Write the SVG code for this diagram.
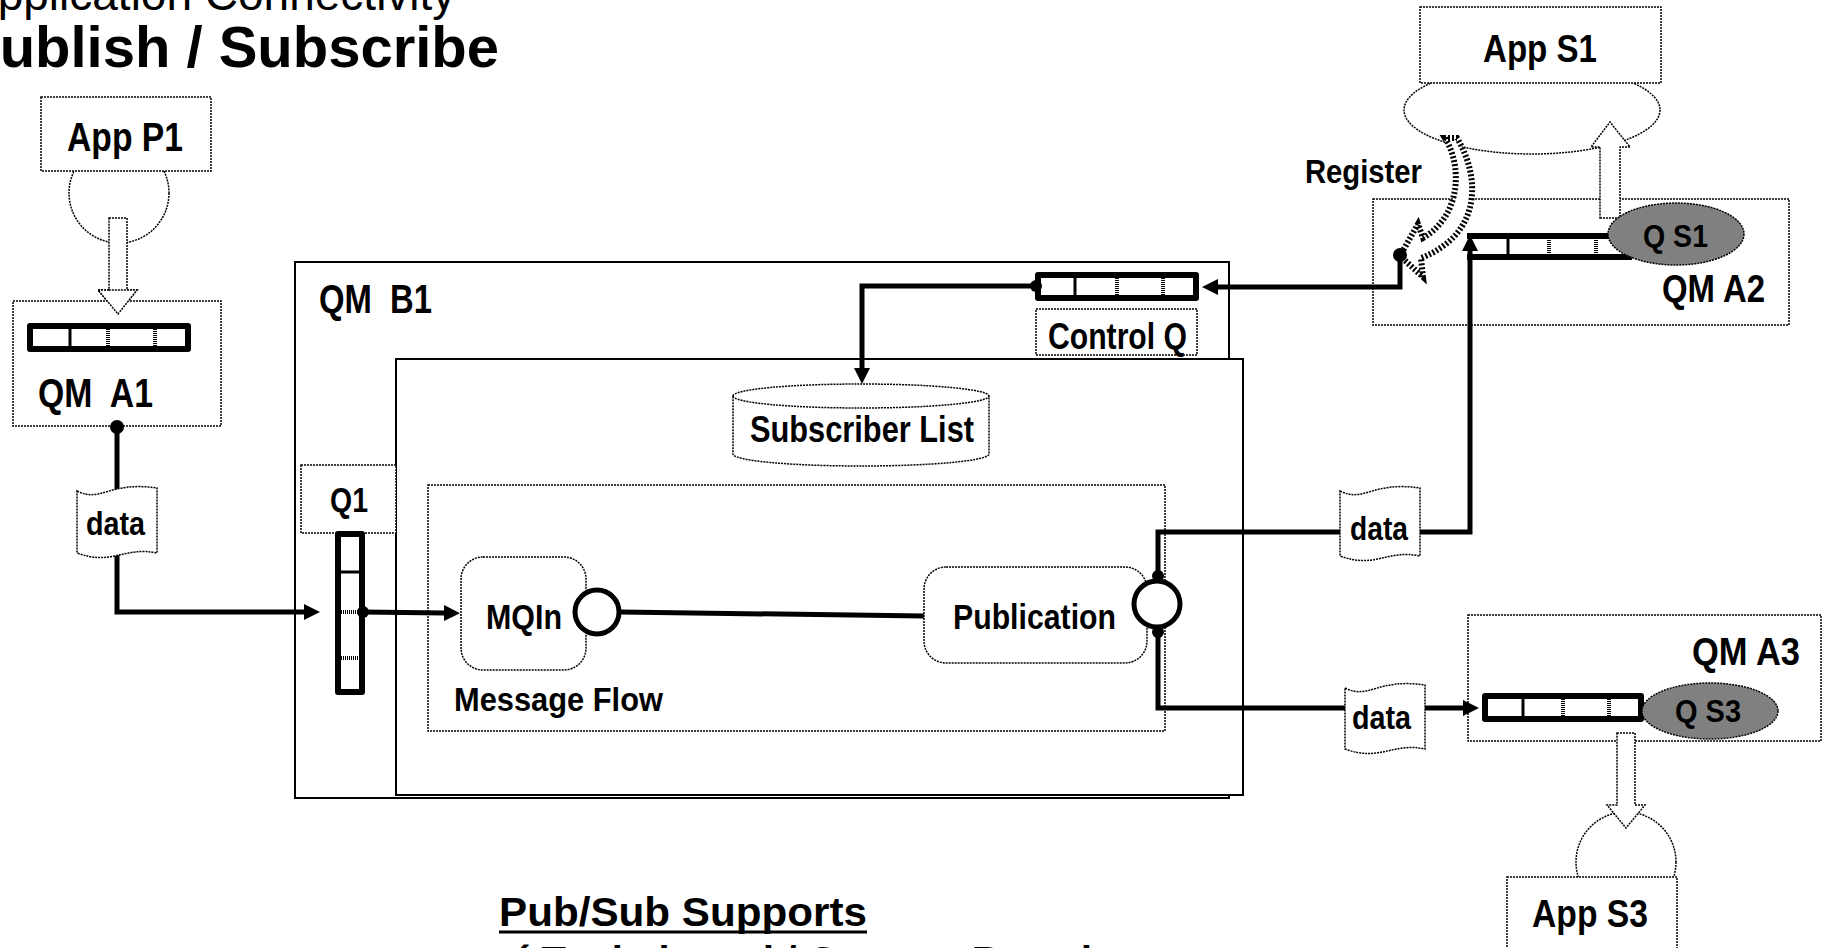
<svg xmlns="http://www.w3.org/2000/svg" width="1825" height="948" viewBox="0 0 1825 948">
<defs>
<style>
.lbl{font-family:"Liberation Sans Narrow","Liberation Sans",Arial,sans-serif;font-weight:bold;fill:#000}
.ttl{font-family:"Liberation Sans",Arial,sans-serif;fill:#000}
.dotb{fill:#fff;stroke:#000;stroke-width:1.5;stroke-dasharray:2 1}
.dotn{fill:none;stroke:#000;stroke-width:1.5;stroke-dasharray:2 1}
.solb{fill:#fff;stroke:#000;stroke-width:2}
.conn{fill:none;stroke:#000;stroke-width:5}
.q{fill:#fff;stroke:#000;stroke-width:6;stroke-linejoin:round}
.ql{fill:none;stroke:#000;stroke-width:6}
.dv{stroke:#000;stroke-width:4;stroke-dasharray:1 1}
.dv1{stroke:#000;stroke-width:3}
.gray{fill:#808080;stroke:#000;stroke-width:1.5;stroke-dasharray:2 1}
.port{fill:#fff;stroke:#000;stroke-width:5}
.hatch{fill:#fff;stroke:#000;stroke-width:6;stroke-dasharray:2 2}
</style>
<marker id="ah" viewBox="0 0 16 16" refX="0" refY="8" markerWidth="16" markerHeight="16" markerUnits="userSpaceOnUse" orient="auto">
<path d="M0,0 L16,8 L0,16 Z" fill="#000"/>
</marker>
</defs>

<g id="title">
<text class="ttl" x="-33" y="10" font-size="46">Application Connectivity</text>
<text class="ttl" x="-39" y="67" font-size="58" font-weight="bold" textLength="538" lengthAdjust="spacingAndGlyphs">Publish / Subscribe</text>
</g>

<g id="app-p1">
<circle class="dotb" cx="119" cy="193" r="50"/>
<rect class="dotb" x="41" y="97" width="170" height="74"/>
<text class="lbl" x="67" y="151" font-size="40" textLength="116" lengthAdjust="spacingAndGlyphs">App P1</text>
<polygon class="dotb" points="109,218 127,218 127,290 137,290 118,314 98,290 109,290"/>
</g>

<g id="qm-a1">
<rect class="dotb" x="13" y="301" width="208" height="125"/>
<polygon class="dotb" points="109,298 127,298 127,290 137,290 118,314 98,290 109,290" style="stroke:none"/>
<polygon class="dotn" points="109,290 98,290 118,314 137,290 127,290"/>
<rect class="q" x="30" y="326" width="158" height="23"/>
<line class="dv1" x1="70" y1="327" x2="70" y2="348"/>
<line class="dv" x1="108" y1="327" x2="108" y2="348"/>
<line class="dv" x1="155" y1="327" x2="155" y2="348"/>
<text class="lbl" x="38" y="407" font-size="40" textLength="115" lengthAdjust="spacingAndGlyphs" xml:space="preserve">QM  A1</text>
</g>

<g id="qm-b1">
<rect class="solb" x="295" y="262" width="934" height="536"/>
<text class="lbl" x="319" y="313" font-size="40" textLength="113" lengthAdjust="spacingAndGlyphs" xml:space="preserve">QM  B1</text>
<rect class="solb" x="396" y="359" width="847" height="436"/>
</g>

<g id="control-q">
<rect class="q" x="1038" y="275" width="158" height="23"/>
<line class="dv1" x1="1075" y1="276" x2="1075" y2="297"/>
<line class="dv" x1="1117" y1="276" x2="1117" y2="297"/>
<line class="dv" x1="1163" y1="276" x2="1163" y2="297"/>
<rect class="dotb" x="1036" y="309" width="161" height="46"/>
<text class="lbl" x="1048" y="349" font-size="36" textLength="139" lengthAdjust="spacingAndGlyphs">Control Q</text>
</g>

<g id="subscriber-list">
<path class="dotb" d="M733,396 A128,12 0 0 1 989,396 L989,454 A128,12 0 0 1 733,454 Z"/>
<path class="dotn" d="M733,396 A128,12 0 0 0 989,396"/>
<text class="lbl" x="750" y="442" font-size="37" textLength="224" lengthAdjust="spacingAndGlyphs">Subscriber List</text>
</g>

<g id="q1">
<rect class="dotb" x="301" y="465" width="95" height="68"/>
<text class="lbl" x="330" y="512" font-size="35" textLength="38" lengthAdjust="spacingAndGlyphs">Q1</text>
<rect class="q" x="338" y="534" width="24" height="158"/>
<line class="dv1" x1="339" y1="572" x2="361" y2="572"/>
<line class="dv" x1="339" y1="612" x2="361" y2="612"/>
<line class="dv" x1="339" y1="658" x2="361" y2="658"/>
</g>

<g id="message-flow">
<rect class="dotb" x="428" y="485" width="737" height="246"/>
<text class="lbl" x="454" y="711" font-size="34" textLength="209" lengthAdjust="spacingAndGlyphs">Message Flow</text>
</g>

<g id="mqin">
<rect class="dotb" x="461" y="557" width="125" height="113" rx="22"/>
<text class="lbl" x="486" y="629" font-size="35" textLength="76" lengthAdjust="spacingAndGlyphs">MQIn</text>
</g>

<g id="publication">
<rect class="dotb" x="924" y="567" width="223" height="96" rx="22"/>
<text class="lbl" x="953" y="629" font-size="35" textLength="163" lengthAdjust="spacingAndGlyphs">Publication</text>
</g>

<g id="app-s1">
<ellipse class="dotb" cx="1532" cy="110" rx="128" ry="44"/>
<rect class="dotb" x="1420" y="7" width="241" height="76"/>
<text class="lbl" x="1483" y="62" font-size="38" textLength="114" lengthAdjust="spacingAndGlyphs">App S1</text>
</g>

<g id="qm-a2">
<rect class="dotb" x="1373" y="199" width="416" height="126"/>
<polygon class="dotb" points="1600,218 1620,218 1620,147 1630,147 1610,122 1591,147 1600,147"/>
<line class="ql" x1="1467" y1="236" x2="1615" y2="236"/>
<line class="ql" x1="1467" y1="257" x2="1632" y2="257"/>
<line class="dv1" x1="1508" y1="238" x2="1508" y2="255"/>
<line class="dv" x1="1549" y1="238" x2="1549" y2="255"/>
<line class="dv" x1="1596" y1="238" x2="1596" y2="255"/>
<ellipse class="gray" cx="1676" cy="234" rx="68" ry="31"/>
<text class="lbl" x="1643" y="247" font-size="31" textLength="65" lengthAdjust="spacingAndGlyphs">Q S1</text>
<text class="lbl" x="1662" y="302" font-size="39" textLength="103" lengthAdjust="spacingAndGlyphs">QM A2</text>
</g>

<g id="register">
<path class="hatch" d="M1445,138 C1462,165 1462,215 1423,238 L1418,224 L1400,256 L1423,277 L1421,258 C1480,235 1482,180 1457,138 Z"/>
<text class="lbl" x="1305" y="183" font-size="34" textLength="117" lengthAdjust="spacingAndGlyphs">Register</text>
</g>

<g id="qm-a3">
<rect class="dotb" x="1468" y="615" width="353" height="126"/>
<rect class="q" x="1485" y="696" width="156" height="23"/>
<line class="dv1" x1="1523" y1="697" x2="1523" y2="718"/>
<line class="dv" x1="1563" y1="697" x2="1563" y2="718"/>
<line class="dv" x1="1609" y1="697" x2="1609" y2="718"/>
<ellipse class="gray" cx="1710" cy="711" rx="68" ry="28"/>
<text class="lbl" x="1675" y="722" font-size="31" textLength="66" lengthAdjust="spacingAndGlyphs">Q S3</text>
<text class="lbl" x="1692" y="665" font-size="39" textLength="108" lengthAdjust="spacingAndGlyphs">QM A3</text>
</g>

<g id="app-s3">
<circle class="dotb" cx="1626" cy="862" r="50"/>
<rect class="dotb" x="1507" y="877" width="170" height="90"/>
<text class="lbl" x="1532" y="927" font-size="38" textLength="116" lengthAdjust="spacingAndGlyphs">App S3</text>
<polygon class="dotb" points="1617,733 1635,733 1635,805 1645,805 1626,828 1607,805 1617,805"/>
</g>

<g id="connectors">
<path class="conn" d="M117,427 V612 H304" marker-end="url(#ah)"/>
<circle cx="117" cy="427" r="7"/>
<path class="conn" d="M363,612 L444,613" marker-end="url(#ah)"/>
<circle cx="363" cy="612" r="6"/>
<path class="conn" d="M1400,255 V287 H1218" marker-end="url(#ah)"/>
<circle cx="1400" cy="255" r="7"/>
<path class="conn" d="M1035,286 H862 V368" marker-end="url(#ah)"/>
<circle cx="1036" cy="286" r="6"/>
<path class="conn" d="M621,612 L924,616"/>
<path class="conn" d="M1158,578 V532 H1470 V251" marker-end="url(#ah)"/>
<path class="conn" d="M1158,630 V708 H1463" marker-end="url(#ah)"/>
<circle class="port" cx="597" cy="612" r="22"/>
<circle cx="1158" cy="576" r="6"/>
<circle cx="1158" cy="632" r="6"/>
<circle class="port" cx="1157" cy="604" r="23"/>
<path class="dotb" d="M77,491 C101,503 109,481 157,488 L157,553 C125,546 112,566 77,553 Z"/>
<text class="lbl" x="86" y="535" font-size="34" textLength="59" lengthAdjust="spacingAndGlyphs">data</text>
<path class="dotb" d="M1340,491 C1364,503 1372,481 1420,488 L1420,556 C1388,549 1375,569 1340,556 Z"/>
<text class="lbl" x="1350" y="540" font-size="34" textLength="58" lengthAdjust="spacingAndGlyphs">data</text>
<path class="dotb" d="M1345,688 C1369,700 1377,678 1425,685 L1425,749 C1393,742 1380,762 1345,749 Z"/>
<text class="lbl" x="1352" y="729" font-size="34" textLength="59" lengthAdjust="spacingAndGlyphs">data</text>
</g>

<g id="footer">
<text class="ttl" x="499" y="926" font-size="40" font-weight="bold" textLength="368" lengthAdjust="spacingAndGlyphs">Pub/Sub Supports</text>
<line x1="499" y1="932" x2="867" y2="932" stroke="#000" stroke-width="3"/>
<text class="ttl" x="517" y="975" font-size="40" font-weight="bold">´ Topic-based / Content-Based</text>
</g>
</svg>
